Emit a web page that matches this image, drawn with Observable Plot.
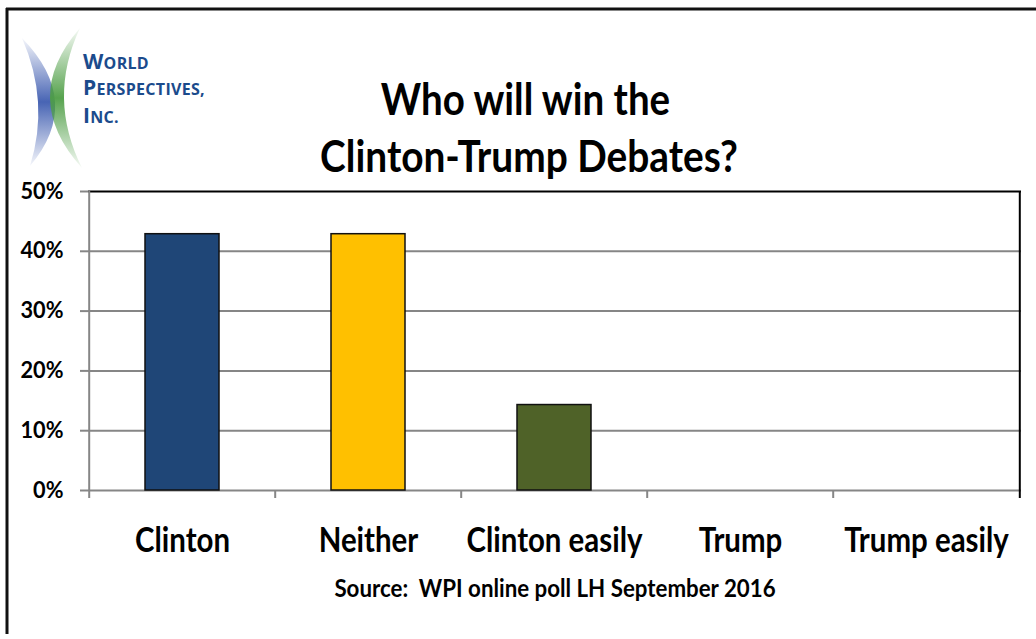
<!DOCTYPE html>
<html>
<head>
<meta charset="utf-8">
<script src="https://cdn.jsdelivr.net/npm/d3@7"></script>
<script src="https://cdn.jsdelivr.net/npm/@observablehq/plot@0.6"></script>
<style>
  html, body { margin: 0; padding: 0; background: #fff; }
  #wrap { position: relative; width: 1036px; height: 639px; overflow: hidden; background: #fff; }
  #wrap > svg { position: absolute; left: 0; top: 0; }
</style>
</head>
<body>
<div id="wrap"></div>
<script>
// ---- data ----
const categories = ["Clinton", "Neither", "Clinton easily", "Trump", "Trump easily"];
const values = [42.86, 42.86, 14.29, 0, 0];
const barColors = ["#1F4677", "#FFC000", "#4F6228", "#C0504D", "#9BBB59"];
const yTicks = [0, 10, 20, 30, 40, 50];
const titleLines = ["Who will win the", "Clinton-Trump Debates?"];
const sourceText = "Source:  WPI online poll LH September 2016";
const logoLines = [["W", "ORLD"], ["P", "ERSPECTIVES,"], ["I", "NC."]];

const data = categories.map((c, i) => ({category: c, value: values[i]}));

// ---- layout ----
const W = 1036, H = 639, mL = 88, mR = 15, mT = 191, mB = 149;
const step = (W - mL - mR) / categories.length;
const FONT = "Lato, 'Open Sans', sans-serif";

const ctx = document.createElement("canvas").getContext("2d");
function fit(text, size, target) {
  ctx.font = `bold ${size}px Lato`;
  return target / ctx.measureText(text).width;
}
const sxCat = fit("Clinton easily", 35, 176);
const sxY = fit("50%", 22, 43);
const sxT1 = fit(titleLines[0], 43, 291);
const sxT2 = fit(titleLines[1], 43, 418);
const sxSrc = fit(sourceText, 24, 442);

const chart = Plot.plot({
  width: W, height: H,
  marginLeft: mL, marginRight: mR, marginTop: mT, marginBottom: mB,
  style: {fontFamily: FONT, fontWeight: "bold", color: "#000", background: "transparent"},
  x: {domain: categories, paddingInner: 0.6, paddingOuter: 0.3, axis: null, label: null},
  y: {domain: [0, 50], axis: null, label: null},
  color: {domain: categories, range: barColors},
  marks: [
    Plot.gridY(yTicks.filter(d => d > 0 && d < 50), {stroke: "#868686", strokeOpacity: 1, strokeWidth: 2}),
    Plot.ruleY([0], {stroke: "#868686", strokeWidth: 2}),
    Plot.barY(data, {filter: d => d.value > 0, x: "category", y: "value", fill: "category", stroke: "#111", strokeWidth: 1.5}),
    Plot.ruleY([50], {stroke: "#000", strokeWidth: 2}),
    Plot.ruleX([categories[0]], {dx: -step / 2, y1: 0, y2: 50, stroke: "#868686", strokeWidth: 2}),
    Plot.ruleX([categories[categories.length - 1]], {dx: step / 2, y1: 0, y2: 50, stroke: "#000", strokeWidth: 2}),
    Plot.axisY(yTicks, {label: null, tickSize: 8, tickPadding: 17, stroke: "#868686", strokeWidth: 2, fontSize: 22, tickFormat: d => d + "%"}),
    Plot.axisX(categories, {label: null, tickSize: 8, dx: -step / 2, stroke: "#868686", strokeWidth: 2, tickFormat: () => ""}),
    Plot.axisX([categories[categories.length - 1]], {label: null, tickSize: 8, dx: step / 2, stroke: "#000", strokeWidth: 2, tickFormat: () => ""}),
    Plot.axisX(categories, {label: null, tickSize: 0, tickPadding: 37, fontSize: 35})
  ]
});

// squeeze axis text horizontally to mimic the narrow original face
function squeeze(t, sx) {
  const x = +t.getAttribute("x") || 0;
  if (x) t.setAttribute("x", x / sx);
  const tr = t.getAttribute("transform") || "";
  t.setAttribute("transform", (tr + ` scale(${sx},1)`).trim());
}
chart.querySelectorAll("g[aria-label='y-axis tick label'] text").forEach(t => squeeze(t, sxY));
chart.querySelectorAll("g[aria-label='x-axis tick label'] text").forEach(t => { if (t.textContent) squeeze(t, sxCat); });

const wrap = document.getElementById("wrap");
wrap.appendChild(chart);

// overlay: frame, logo, title, source
const ns = "http://www.w3.org/2000/svg";
const ov = d3.select(wrap).append("svg")
  .attr("xmlns", ns).attr("width", W).attr("height", H)
  .style("pointer-events", "none");

// outer frame (top and left edges visible in original)
ov.append("line").attr("x1", 6).attr("x2", W).attr("y1", 9).attr("y2", 9).attr("stroke", "#111").attr("stroke-width", 3);
ov.append("line").attr("x1", 7).attr("x2", 7).attr("y1", 8).attr("y2", 634).attr("stroke", "#111").attr("stroke-width", 3);

// logo crescents
const defs = ov.append("defs");
function grad(id, color) {
  const g = defs.append("linearGradient").attr("id", id).attr("x1", 0).attr("y1", 0).attr("x2", 0).attr("y2", 1);
  g.append("stop").attr("offset", "0%").attr("stop-color", color).attr("stop-opacity", 0.05);
  g.append("stop").attr("offset", "50%").attr("stop-color", color).attr("stop-opacity", 0.95);
  g.append("stop").attr("offset", "100%").attr("stop-color", color).attr("stop-opacity", 0.05);
}
grad("gBlue", "#3E5CB0");
grad("gGreen", "#4E9E45");
ov.append("path").attr("d", "M22,38 Q84,102 30,166 Q50,102 22,38 Z").attr("fill", "url(#gBlue)");
ov.append("path").attr("d", "M80,28 Q19,98 82,168 Q47,98 80,28 Z").attr("fill", "url(#gGreen)");

const logoY = [69, 95, 123];
logoLines.forEach((parts, i) => {
  const t = ov.append("text").attr("x", 83).attr("y", logoY[i])
    .attr("fill", "#1B4B8C").attr("font-family", "'Open Sans', Lato, sans-serif")
    .attr("font-weight", 700).attr("letter-spacing", 0.3);
  t.append("tspan").attr("font-size", 21).text(parts[0]);
  t.append("tspan").attr("font-size", 16).text(parts[1]);
});

// title
const titlePos = [[525.5, 115, sxT1], [529, 172, sxT2]];
titleLines.forEach((s, i) => {
  const [x, y, sx] = titlePos[i];
  ov.append("text").attr("transform", `translate(${x},${y}) scale(${sx},1)`)
    .attr("text-anchor", "middle").attr("font-family", FONT).attr("font-weight", "bold")
    .attr("font-size", 43).attr("fill", "#000").text(s);
});

// source
ov.append("text").attr("transform", `translate(555,597) scale(${sxSrc},1)`)
  .attr("text-anchor", "middle").attr("font-family", FONT).attr("font-weight", "bold")
  .attr("font-size", 24).attr("fill", "#000").style("white-space", "pre").text(sourceText);
</script>
</body>
</html>
